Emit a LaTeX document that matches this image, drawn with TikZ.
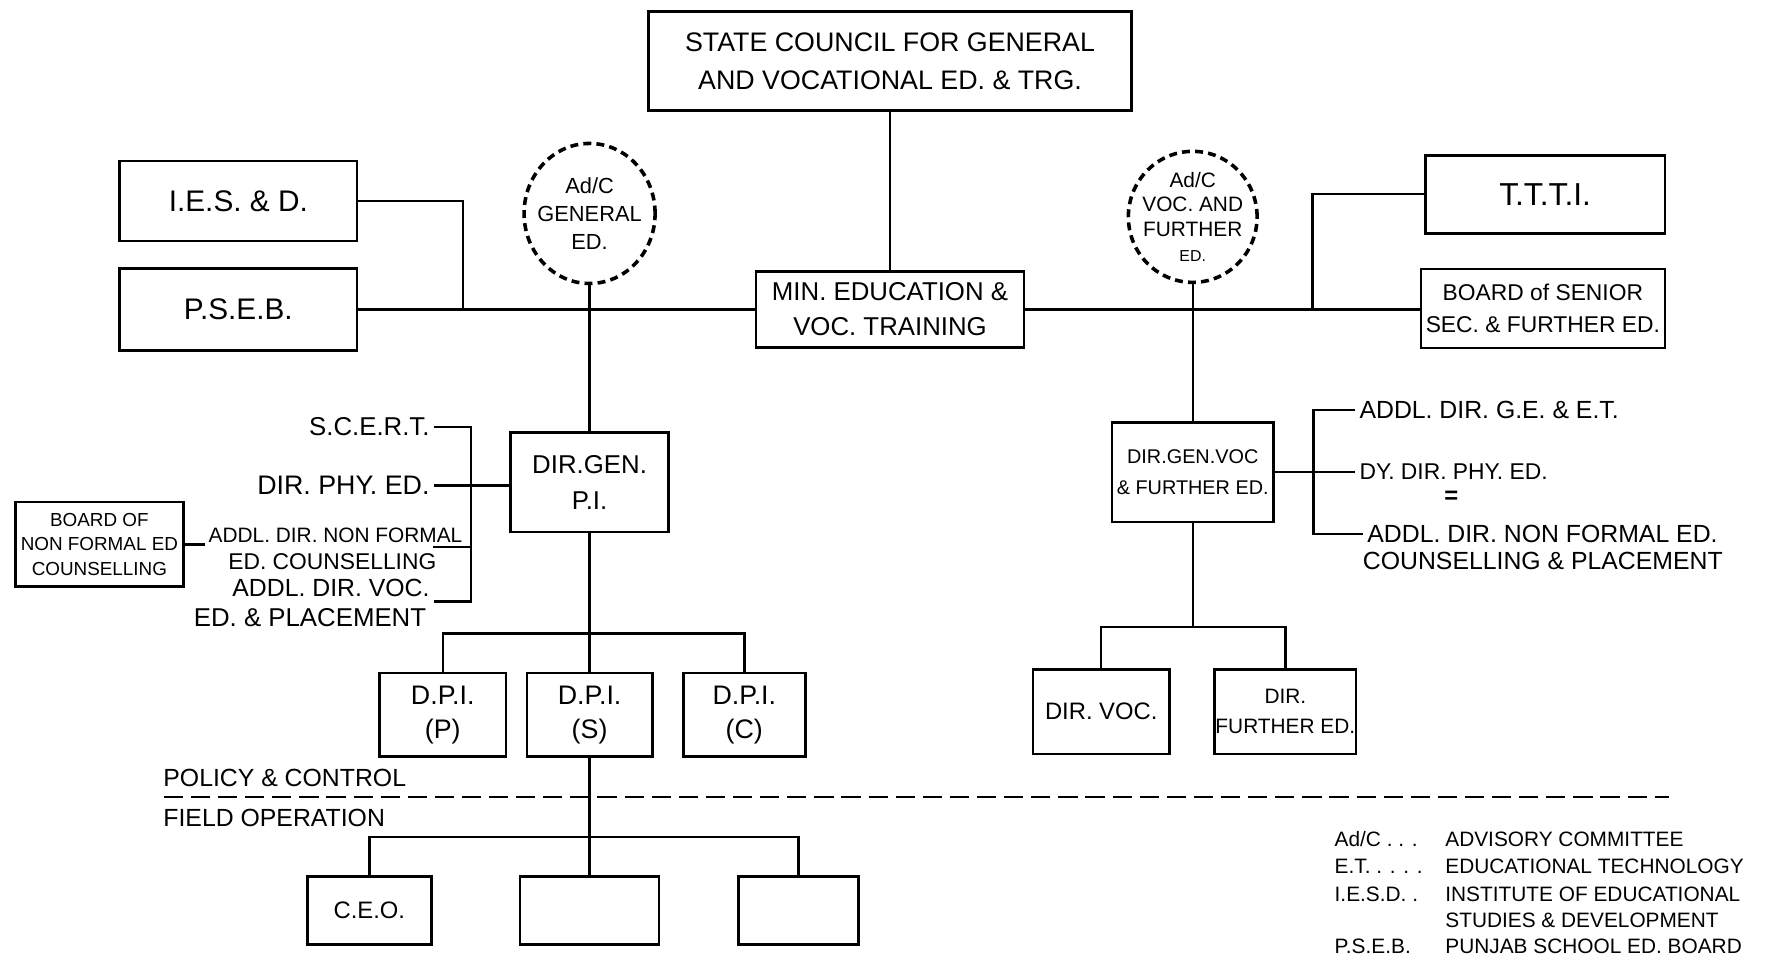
\documentclass[tikz,border=0pt]{standalone}
\usepackage{fontspec}
\setmainfont{Liberation Sans}
\usetikzlibrary{shapes.geometric}
\newcommand\fsz[2]{\fontsize{#1pt}{#2pt}\selectfont}
\tikzset{
  box/.style 2 args={draw, line width=1.3pt, minimum width=#1*0.2mm, minimum height=#2*0.2mm, inner sep=0pt, align=center},
  adc/.style 2 args={draw, ellipse, dash pattern=on 4pt off 2.6pt, line width=1.8pt, minimum width=#1*0.2mm, minimum height=#2*0.2mm, inner sep=-1.4mm, align=center},
  lbl/.style={inner sep=1.5pt, align=left},
}
\begin{document}
\begin{tikzpicture}[x=0.2mm, y=-0.2mm, line width=1.2pt]
\useasboundingbox (0,0) rectangle (1568,853);
% council and ministry
\node[box={428}{88}, font=\fsz{13.5}{19}] (sc) at (788,54) {STATE COUNCIL FOR GENERAL\\AND VOCATIONAL ED. \& TRG.};
\node[box={237}{67}, font=\fsz{13}{17.5}] (min) at (788,274) {MIN. EDUCATION \&\\VOC. TRAINING};
% institutions left and right
\node[box={210}{71}, font=\fsz{15}{18}] (iesd) at (211,178) {I.E.S. \& D.};
\node[box={210}{73}, font=\fsz{15}{18}] (pseb) at (211,274) {P.S.E.B.};
\node[box={212}{69}, font=\fsz{16}{18}] (ttti) at (1368,172) {T.T.T.I.};
\node[box={216}{70}, font=\fsz{11.5}{16}] (bsse) at (1366,273) {BOARD of SENIOR\\SEC. \& FURTHER ED.};
% advisory committees
\node[adc={116}{124}, font=\fsz{11}{14}] (adcg) at (522,189) {Ad/C\\GENERAL\\ED.};
\node[adc={114}{116}, font=\fsz{10.5}{12.5}] (adcv) at (1056,192) {Ad/C\\VOC. AND\\FURTHER\\{\fsz{8}{10}ED.}};
% directorates
\node[box={140}{88}, font=\fsz{13}{18}] (dgpi) at (522,427) {DIR.GEN.\\P.I.};
\node[box={143}{88}, font=\fsz{10}{16}] (dgvoc) at (1056,418) {DIR.GEN.VOC\\\& FURTHER ED.};
% staff of DIR.GEN. P.I.
\node[lbl, anchor=east, font=\fsz{13}{15}] (scert) at (384,378) {S.C.E.R.T.};
\node[lbl, anchor=east, font=\fsz{13.5}{16}] (dphy) at (384,430) {DIR. PHY. ED.};
\node[lbl, anchor=east, font=\fsz{10.5}{13}] (anf) at (413,474) {ADDL. DIR. NON FORMAL};
\node[lbl, anchor=east, font=\fsz{11.5}{13}] (cou) at (390,497) {ED. COUNSELLING};
\node[lbl, anchor=east, font=\fsz{12.5}{14}] (avoc) at (384,521) {ADDL. DIR. VOC.};
\node[lbl, anchor=east, font=\fsz{13}{15}] (plc) at (381,547) {ED. \& PLACEMENT};
\node[box={149}{75}, font=\fsz{9.5}{12.5}] (bnfe) at (88,482) {BOARD OF\\NON FORMAL ED\\COUNSELLING};
% staff of DIR.GEN.VOC
\node[lbl, anchor=west, font=\fsz{12.5}{14}] (adge) at (1200,363) {ADDL. DIR. G.E. \& E.T.};
\node[lbl, anchor=west, font=\fsz{11.5}{14}] (dydir) at (1200,418) {DY. DIR. PHY. ED.};
\node[font=\fsz{12}{14}\bfseries] (ditto) at (1285,440) {=};
\node[lbl, anchor=west, font=\fsz{12.5}{14}] (anfr) at (1207,473) {ADDL. DIR. NON FORMAL ED.};
\node[lbl, anchor=west, font=\fsz{12.5}{14}] (cpr) at (1203,497) {COUNSELLING \& PLACEMENT};
% D.P.I.s and directors
\node[box={112}{74}, font=\fsz{13.5}{17}] (dpip) at (392,633) {D.P.I.\\(P)};
\node[box={111}{74}, font=\fsz{13.5}{17}] (dpis) at (522,633) {D.P.I.\\(S)};
\node[box={108}{74}, font=\fsz{13.5}{17}] (dpic) at (659,633) {D.P.I.\\(C)};
\node[box={121}{75}, font=\fsz{12}{14}] (dvoc) at (975,630) {DIR. VOC.};
\node[box={125}{75}, font=\fsz{10.5}{15}] (dfur) at (1138,630) {DIR.\\FURTHER ED.};
% field offices
\node[box={110}{60}, font=\fsz{12}{14}] (ceo) at (327,806) {C.E.O.};
\node[box={123}{60}] (fo2) at (522,806) {};
\node[box={106}{60}] (fo3) at (707,806) {};
% junctions
\coordinate (jl) at (410,274);
\coordinate (jr) at (1162,274);
\coordinate (lbt) at (417,378);
\coordinate (rbt) at (1163,363);
\coordinate (rbb) at (1163,473);
\coordinate (dbar) at (522,561);
\coordinate (vbar) at (1056,555);
\coordinate (fbar) at (522,741);
% connectors
\draw (sc) -- (min);
\draw (pseb.east) -- (pseb.east -| min.west);
\draw (min.east) -- (min.east -| bsse.west);
\draw (iesd.east) -| (jl);
\draw (ttti.west) -| (jr);
\draw (adcg) -- (dgpi);
\draw (adcv) -- (dgvoc);
\draw (scert.east) -- (lbt) -- (lbt |- avoc.south east) -- (avoc.south east);
\draw (dphy.east) -- (dphy.east -| dgpi.west);
\draw ([xshift=-6mm]anf.south east) -- (anf.south east -| lbt);
\draw (bnfe.east) -- (bnfe.east -| anf.west);
\draw (adge.west) -- (rbt) -- (rbb) -- (anfr.west);
\draw (dgvoc.east) -- (dydir.west);
\draw (dgpi) -- (dpis);
\draw (dpip.north) |- (dbar) -| (dpic.north);
\draw (dgvoc) -- (vbar);
\draw (dvoc.north) |- (vbar) -| (dfur.north);
\draw (dpis) -- (fo2);
\draw (ceo.north) |- (fbar) -| (fo3.north);
% policy / field divide
\draw[dash pattern=on 3.4mm off 1.4mm, line width=1pt] (145,706) -- (1478,706);
\node[lbl, anchor=west, font=\fsz{12.5}{14}] (pol) at (141,689) {POLICY \& CONTROL};
\node[lbl, anchor=west, font=\fsz{12.5}{14}] (fop) at (141,724) {FIELD OPERATION};
% key
\node[lbl, anchor=west, font=\fsz{10.5}{13}] (k1) at (1178,743) {Ad/C . . .};
\node[lbl, anchor=west, font=\fsz{10.5}{13}] (d1) at (1276,743) {ADVISORY COMMITTEE};
\node[lbl, anchor=west, font=\fsz{10.5}{13}] (k2) at (1178,767) {E.T. . . . .};
\node[lbl, anchor=west, font=\fsz{10.5}{13}] (d2) at (1276,767) {EDUCATIONAL TECHNOLOGY};
\node[lbl, anchor=west, font=\fsz{10.5}{13}] (k3) at (1178,792) {I.E.S.D. .};
\node[lbl, anchor=west, font=\fsz{10.5}{13}] (d3) at (1276,792) {INSTITUTE OF EDUCATIONAL};
\node[lbl, anchor=west, font=\fsz{10.5}{13}] (d3b) at (1276,815) {STUDIES \& DEVELOPMENT};
\node[lbl, anchor=west, font=\fsz{10.5}{13}] (k4) at (1178,838) {P.S.E.B.};
\node[lbl, anchor=west, font=\fsz{10.5}{13}] (d4) at (1276,838) {PUNJAB SCHOOL ED. BOARD};
\end{tikzpicture}
\end{document}
